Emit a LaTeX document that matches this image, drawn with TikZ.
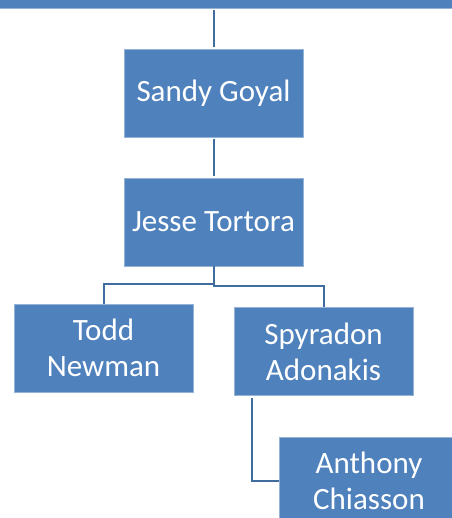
\documentclass[tikz,border=0pt]{standalone}
\usepackage{fontspec}
\setmainfont{Carlito}
\definecolor{boxblue}{RGB}{79,129,189}
\definecolor{boxedge}{RGB}{149,179,215}
\definecolor{linkblue}{RGB}{65,108,160}
\begin{document}
\begin{tikzpicture}[x=1pt,y=-1pt,
  person/.style={draw=boxedge, line width=0.8pt, fill=boxblue, text=white,
    minimum width=179pt, minimum height=88pt, inner sep=0pt, align=center,
    font=\fontsize{31}{36}\selectfont},
  link/.style={draw=linkblue, line width=2pt}]
\useasboundingbox (0,0) rectangle (451,518);
\node[person, minimum width=500pt, minimum height=80pt] (top) at (225.5,-32) {};
\node[person] (sandy) at (213.5,93) {Sandy Goyal};
\node[person] (jesse) at (213.5,222) {Jesse Tortora};
\node[person] (todd) at (103.5,348) {Todd\\Newman};
\node[person] (spy) at (323.5,351.5) {Spyradon\\Adonakis};
\node[person] (anth) at (369,481) {Anthony\\Chiasson};
\draw[link, shorten <=2pt, shorten >=2pt] (top.south -| sandy.north) -- (sandy.north);
\draw[link, shorten <=2pt, shorten >=2pt] (sandy.south) -- (jesse.south |- jesse.north);
\draw[link] (jesse.south) -- ++(0,18) -| (todd.north);
\draw[link] (jesse.south) -- ++(0,20) -| (spy.north);
\draw[link, shorten <=2pt] ([xshift=18pt]spy.south west) |- (anth.west);
\end{tikzpicture}
\end{document}
